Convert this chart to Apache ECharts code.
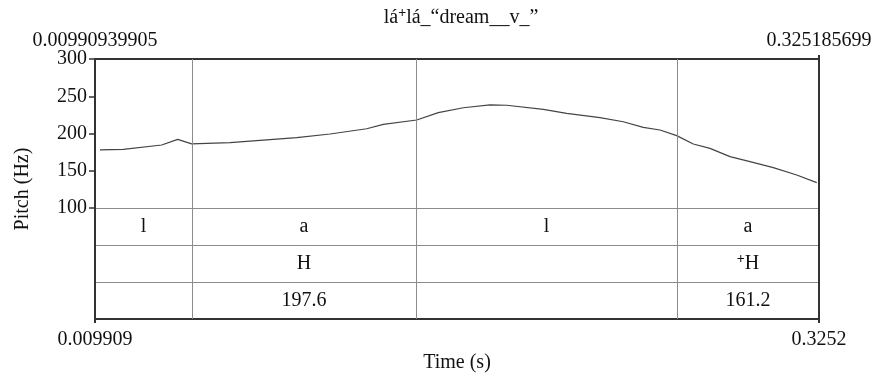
<!DOCTYPE html>
<html>
<head>
<meta charset="utf-8">
<script src="https://cdn.jsdelivr.net/npm/echarts@6/dist/echarts.min.js"></script>
<style>
html,body{margin:0;padding:0;background:#fff;}
#chart{width:880px;height:379px;}
</style>
</head>
<body>
<div id="chart"></div>
<script>
// ---- data ----
const timeMin = 0.009909;
const timeMax = 0.3252;
const pitchTimes = [0.01209, 0.02223, 0.03896, 0.04592, 0.05202, 0.06870, 0.09775, 0.11225, 0.12823, 0.13546,
  0.15001, 0.15942, 0.17030, 0.18193, 0.18918, 0.20513, 0.21532, 0.22982, 0.23997, 0.24868,
  0.25595, 0.26323, 0.27046, 0.27773, 0.28644, 0.29515, 0.30530, 0.31550, 0.32421];
const pitchHz = [177.9, 178.8, 184.6, 192.2, 186.0, 187.7, 194.4, 199.3, 206.4, 212.3,
  218.1, 228.0, 234.6, 238.3, 237.9, 232.5, 227.1, 221.2, 215.8, 208.3,
  204.7, 197.1, 185.9, 180.1, 168.9, 162.2, 154.1, 144.3, 134.0];
const intervalEdges = [0.009909, 0.05215, 0.14970, 0.26337, 0.3252];
const boundaries = [0.05215, 0.14970, 0.26337];
const tierPhones = ['l', 'a', 'l', 'a'];
const tierTones = ['', 'H', '', '⁺H'];
const tierValues = ['', '197.6', '', '161.2'];
const yTicks = [100, 150, 200, 250, 300];
const bottomTickValues = [0.009909, 0.3252];
const bottomTickLabels = ['0.009909', '0.3252'];
const topTickValues = [0.009909, 0.3252];
const topTickLabels = ['0.00990939905', '0.325185699'];
const titleText = 'lá⁺lá_“dream__v_”';
const yName = 'Pitch (Hz)';
const xName = 'Time (s)';

// ---- build ----
const FONT = 'Liberation Serif';
const TXT = '#111';
const GRAYL = '#8c8c8c';
const DARK = '#333';

function supify(s) { return s.replace(/⁺/g, '{s|+}'); }
const rich = {
  s: { fontFamily: FONT, fontSize: 14, fontWeight: 'bold', color: TXT, verticalAlign: 'top', padding: [0, 0, 9, 0] }
};

const tiers = [tierPhones, tierTones, tierValues];
const tierData = [];
tiers.forEach((tier, r) => {
  tier.forEach((t, i) => {
    if (t !== '') tierData.push([(intervalEdges[i] + intervalEdges[i + 1]) / 2, r + 0.5, t]);
  });
});

const vLines = { silent: true, symbol: ['none', 'none'], precision: 6, label: { show: false },
  lineStyle: { color: GRAYL, width: 1, type: 'solid' },
  emphasis: { disabled: true },
  data: boundaries.map(b => ({ xAxis: b })) };

const chart = echarts.init(document.getElementById('chart'), null, { renderer: 'canvas' });
chart.setOption({
  animation: false,
  backgroundColor: '#fff',
  textStyle: { fontFamily: FONT, color: TXT },
  title: {
    text: supify(titleText),
    left: 456, top: 1, textAlign: 'center',
    textStyle: { fontFamily: FONT, fontSize: 20, fontWeight: 'normal', color: TXT, rich: rich }
  },
  graphic: [{
    type: 'text', x: 23, y: 189, rotation: Math.PI / 2,
    style: { text: yName, font: '20px "Liberation Serif"', fill: TXT, align: 'center', verticalAlign: 'middle' }
  }],
  grid: [
    { left: 95, top: 59, width: 724, height: 149 },
    { left: 95, top: 208, width: 724, height: 111 }
  ],
  xAxis: [
    { gridIndex: 0, type: 'value', position: 'top', min: timeMin, max: timeMax,
      axisLine: { show: true, onZero: false, lineStyle: { color: DARK, width: 2 } },
      axisTick: { show: true, customValues: [timeMax], length: 4, lineStyle: { color: DARK, width: 2 } },
      axisLabel: { show: true, customValues: topTickValues, margin: 8, fontSize: 20, fontFamily: FONT, color: TXT,
        formatter: v => topTickLabels[topTickValues.indexOf(v)] },
      splitLine: { show: false } },
    { gridIndex: 1, type: 'value', position: 'bottom', min: timeMin, max: timeMax,
      name: xName, nameLocation: 'middle', nameGap: 34,
      nameTextStyle: { fontSize: 20, fontFamily: FONT, color: TXT },
      axisLine: { show: true, onZero: false, lineStyle: { color: DARK, width: 2 } },
      axisTick: { show: true, customValues: bottomTickValues, length: 4, lineStyle: { color: DARK, width: 2 } },
      axisLabel: { show: true, customValues: bottomTickValues, margin: 11, fontSize: 20, fontFamily: FONT, color: TXT,
        formatter: v => bottomTickLabels[bottomTickValues.indexOf(v)] },
      splitLine: { show: false } }
  ],
  yAxis: [
    { gridIndex: 0, type: 'value', position: 'left', min: yTicks[0], max: yTicks[yTicks.length - 1], interval: 50,
      axisLine: { show: true, onZero: false, lineStyle: { color: DARK, width: 2 } },
      axisTick: { show: true, length: 6, lineStyle: { color: DARK, width: 1.5 } },
      axisLabel: { margin: 8, fontSize: 20, fontFamily: FONT, color: TXT },
      splitLine: { show: false } },
    { gridIndex: 0, type: 'value', position: 'right', min: yTicks[0], max: yTicks[yTicks.length - 1],
      axisLine: { show: true, onZero: false, lineStyle: { color: DARK, width: 2 } },
      axisTick: { show: false }, axisLabel: { show: false }, splitLine: { show: false } },
    { gridIndex: 1, type: 'value', position: 'left', min: 0, max: 3, interval: 1, inverse: true,
      axisLine: { show: true, onZero: false, lineStyle: { color: DARK, width: 2 } },
      axisTick: { show: false }, axisLabel: { show: false },
      splitLine: { show: true, lineStyle: { color: GRAYL, width: 1.2 } } },
    { gridIndex: 1, type: 'value', position: 'right', min: 0, max: 3, inverse: true,
      axisLine: { show: true, onZero: false, lineStyle: { color: DARK, width: 2 } },
      axisTick: { show: false }, axisLabel: { show: false }, splitLine: { show: false } }
  ],
  series: [
    { type: 'line', xAxisIndex: 0, yAxisIndex: 0, showSymbol: false, symbol: 'none', silent: true,
      data: pitchTimes.map((t, i) => [t, pitchHz[i]]),
      lineStyle: { color: '#444', width: 1.2 },
      markLine: vLines, z: 3 },
    { type: 'scatter', xAxisIndex: 1, yAxisIndex: 2, symbolSize: 0, silent: true,
      itemStyle: { opacity: 1 },
      data: tierData,
      label: { show: true, position: 'inside', opacity: 1, fontSize: 20, fontFamily: FONT, color: TXT,
        formatter: p => supify(p.data[2]), rich: rich },
      markLine: vLines }
  ]
});
</script>
</body>
</html>
